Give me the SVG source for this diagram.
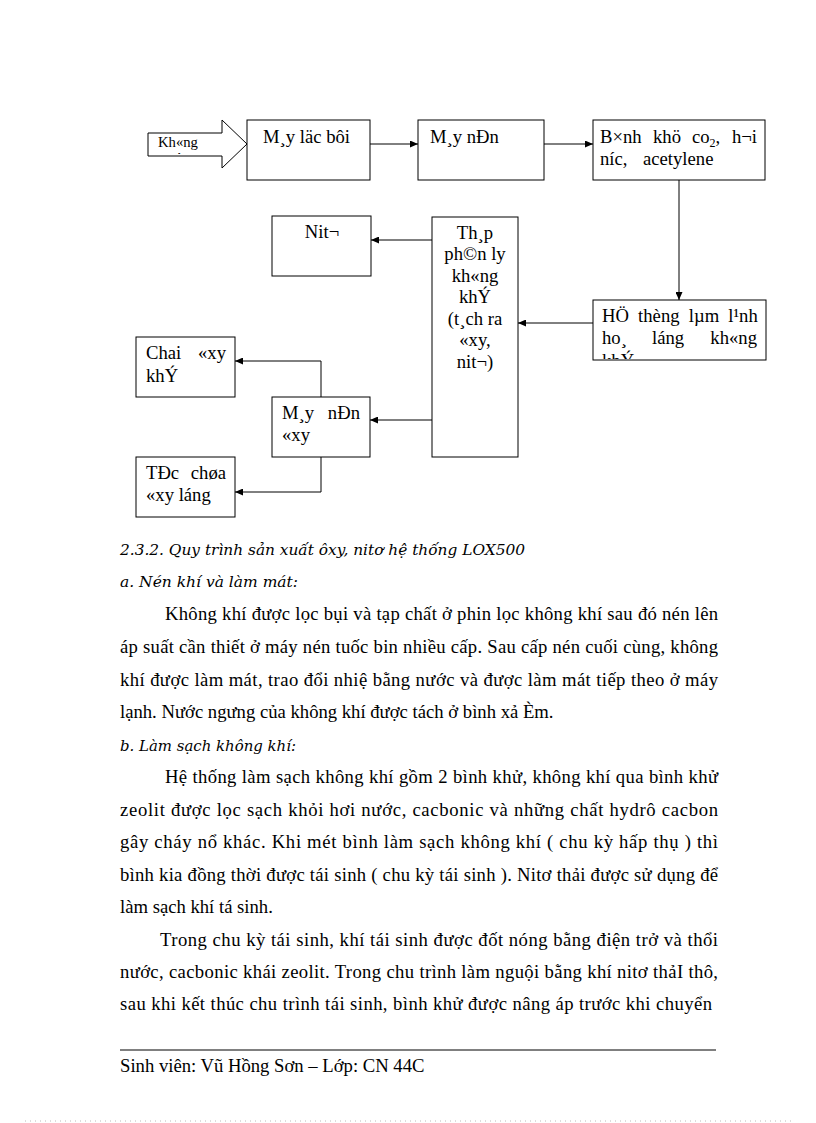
<svg xmlns="http://www.w3.org/2000/svg" width="816" height="1123" viewBox="0 0 816 1123">
<style>
.box{fill:#fff;stroke:#000;stroke-width:1}
.t{font-family:"Liberation Serif","Times New Roman",serif;font-size:18.67px;fill:#000}
.ts{font-family:"Liberation Serif","Times New Roman",serif;font-size:14.67px;fill:#000}
.c{text-anchor:middle}
.e{text-anchor:end}
.h{font-family:"DejaVu Serif",serif;font-style:italic;font-size:14px;fill:#000}
.conn{fill:none;stroke:#000;stroke-width:1}
</style>
<defs>
<marker id="ah" markerUnits="userSpaceOnUse" markerWidth="8" markerHeight="7" refX="8" refY="3.5" orient="auto">
<path d="M0,0 L8,3.5 L0,7 z" fill="#000"/>
</marker>
<clipPath id="clipArrow"><rect x="148" y="133" width="74" height="21"/></clipPath>
<clipPath id="clipHe"><rect x="594" y="301" width="171" height="58"/></clipPath>
</defs>
<rect width="816" height="1123" fill="#fff"/>

<g id="input-arrow">
<polygon class="box" points="148,133 222,133 222,120 247,144 222,168 222,156 148,156"/>
<g clip-path="url(#clipArrow)">
<text class="ts" x="158" y="147">Kh«ng</text>
<text class="ts" x="158" y="166">khÝ</text>
</g>
</g>

<g id="may-loc-bui">
<rect class="box" x="247" y="120" width="123" height="60"/>
<text class="t" x="263" y="143">M¸y läc bôi</text>
</g>

<g id="may-nen">
<rect class="box" x="418" y="120" width="126" height="60"/>
<text class="t" x="430" y="143">M¸y nÐn</text>
</g>

<g id="binh-khu">
<rect class="box" x="593" y="120" width="172" height="60"/>
<text class="t" x="600" y="143">B×nh</text>
<text class="t" x="653" y="143">khö</text>
<text class="t" x="692" y="143">co<tspan font-size="12" dy="4">2</tspan><tspan dy="-4">,</tspan></text>
<text class="t e" x="757" y="143">h¬i</text>
<text class="t" x="600" y="165">níc,</text>
<text class="t" x="643" y="165">acetylene</text>
</g>

<g id="he-thong-lam-lanh">
<rect class="box" x="593" y="300" width="173" height="60"/>
<g clip-path="url(#clipHe)">
<text class="t" x="602" y="322" word-spacing="4.5">HÖ thèng lµm l¹nh</text>
<text class="t" x="602" y="344">ho¸</text>
<text class="t" x="652" y="344">láng</text>
<text class="t e" x="757" y="344">kh«ng</text>
<text class="t" x="602" y="367">khÝ</text>
</g>
</g>

<g id="thap-phan-ly">
<rect class="box" x="432" y="217" width="86" height="240"/>
<text class="t c" x="475" y="239">Th¸p</text>
<text class="t c" x="475" y="260">ph©n ly</text>
<text class="t c" x="475" y="282">kh«ng</text>
<text class="t c" x="475" y="303">khÝ</text>
<text class="t c" x="475" y="325">(t¸ch ra</text>
<text class="t c" x="475" y="346">«xy,</text>
<text class="t c" x="475" y="368">nit¬)</text>
</g>

<g id="nito">
<rect class="box" x="272" y="216" width="99" height="60"/>
<text class="t c" x="322" y="238">Nit¬</text>
</g>

<g id="may-nen-oxy">
<rect class="box" x="272" y="397" width="98" height="60"/>
<text class="t" x="282" y="419">M¸y</text>
<text class="t e" x="360" y="419">nÐn</text>
<text class="t" x="282" y="441">«xy</text>
</g>

<g id="chai-oxy">
<rect class="box" x="136" y="337" width="99" height="60"/>
<text class="t" x="146" y="359">Chai</text>
<text class="t e" x="226" y="359">«xy</text>
<text class="t" x="146" y="382">khÝ</text>
</g>

<g id="tec-chua">
<rect class="box" x="136" y="457" width="99" height="60"/>
<text class="t" x="146" y="479">TÐc</text>
<text class="t e" x="226" y="479">chøa</text>
<text class="t" x="146" y="501">«xy láng</text>
</g>

<g id="connectors">
<line class="conn" x1="370" y1="144" x2="418" y2="144" marker-end="url(#ah)"/>
<line class="conn" x1="544" y1="144" x2="593" y2="144" marker-end="url(#ah)"/>
<line class="conn" x1="679" y1="180" x2="679" y2="300" marker-end="url(#ah)"/>
<line class="conn" x1="593" y1="323" x2="518" y2="323" marker-end="url(#ah)"/>
<line class="conn" x1="432" y1="240" x2="371" y2="240" marker-end="url(#ah)"/>
<line class="conn" x1="432" y1="420" x2="370" y2="420" marker-end="url(#ah)"/>
<polyline class="conn" points="321,397 321,361 235,361" marker-end="url(#ah)"/>
<polyline class="conn" points="321,457 321,492 235,492" marker-end="url(#ah)"/>
</g>

<g id="body-text">
<text class="h" x="120" y="555" textLength="405" lengthAdjust="spacingAndGlyphs">2.3.2. Quy trình sản xuất ôxy, nitơ hệ thống LOX500</text>
<text class="h" x="120" y="587" textLength="178" lengthAdjust="spacingAndGlyphs">a. Nén khí và làm mát:</text>
<text class="t" x="165" y="620" textLength="553" lengthAdjust="spacing">Không khí được lọc bụi và tạp chất ở phin lọc không khí sau đó nén lên</text>
<text class="t" x="120" y="653" textLength="598" lengthAdjust="spacing">áp suất cần thiết ở máy nén tuốc bin nhiều cấp. Sau cấp nén cuối cùng, không</text>
<text class="t" x="120" y="686" textLength="598" lengthAdjust="spacing">khí được làm mát, trao đổi nhiệ bằng nước và được làm mát tiếp theo ở máy</text>
<text class="t" x="120" y="718">lạnh. Nước ngưng của không khí được tách ở bình xả Èm.</text>
<text class="h" x="120" y="751" textLength="176" lengthAdjust="spacingAndGlyphs">b. Làm sạch không khí:</text>
<text class="t" x="165" y="783" textLength="553" lengthAdjust="spacing">Hệ thống làm sạch không khí gồm 2 bình khử, không khí qua bình khử</text>
<text class="t" x="120" y="816" textLength="598" lengthAdjust="spacing">zeolit được lọc sạch khỏi hơi nước, cacbonic và những chất hydrô cacbon</text>
<text class="t" x="120" y="848" textLength="598" lengthAdjust="spacing">gây cháy nổ khác. Khi mét bình làm sạch không khí ( chu kỳ hấp thụ ) thì</text>
<text class="t" x="120" y="881" textLength="598" lengthAdjust="spacing">bình kia đồng thời được tái sinh ( chu kỳ tái sinh ). Nitơ thải được sử dụng để</text>
<text class="t" x="120" y="913">làm sạch khí tá sinh.</text>
<text class="t" x="160" y="946" textLength="558" lengthAdjust="spacing">Trong chu kỳ tái sinh, khí tái sinh được đốt nóng bằng điện trở và thổi</text>
<text class="t" x="120" y="978" textLength="598" lengthAdjust="spacing">nước, cacbonic khái zeolit. Trong chu trình làm nguội bằng khí nitơ thảI thô,</text>
<text class="t" x="120" y="1010" textLength="592" lengthAdjust="spacing">sau khi kết thúc chu trình tái sinh, bình khử được nâng áp trước khi chuyển</text>
</g>

<g id="footer">
<line x1="120" y1="1050" x2="716" y2="1050" stroke="#000" stroke-width="1"/>
<text class="t" x="120" y="1072">Sinh viên: Vũ Hồng Sơn – Lớp: CN 44C</text>
<line x1="25" y1="1121" x2="795" y2="1121" stroke="#bbb" stroke-width="1" stroke-dasharray="1 4"/>
</g>
</svg>
